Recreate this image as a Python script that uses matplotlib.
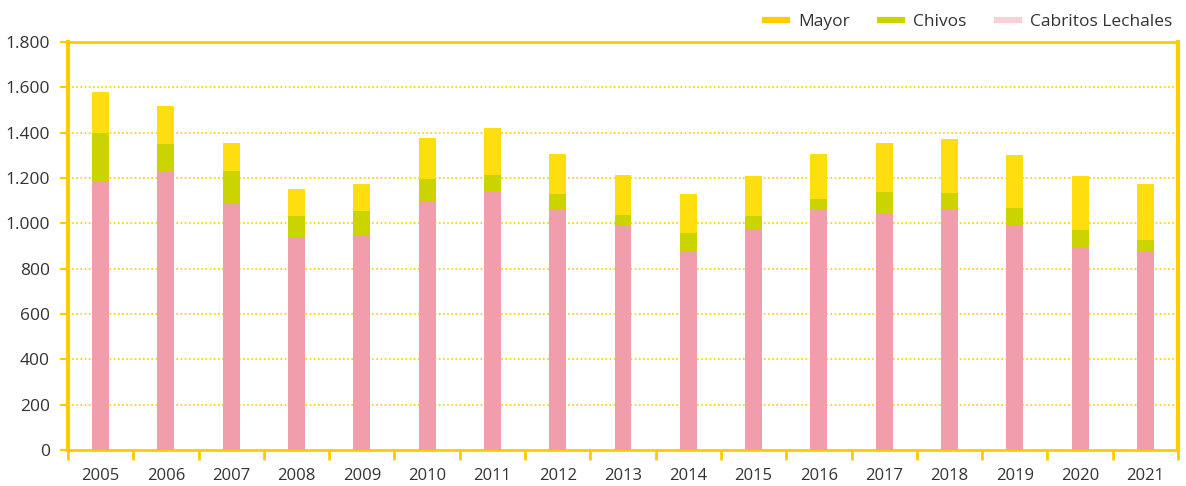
import numpy as np
import matplotlib.pyplot as plt
from matplotlib.lines import Line2D

years = ['2005', '2006', '2007', '2008', '2009', '2010', '2011', '2012', '2013',
         '2014', '2015', '2016', '2017', '2018', '2019', '2020', '2021']
# cumulative tops
cabritos = [1187, 1231, 1090, 940, 946, 1098, 1140, 1063, 990, 878, 972, 1060, 1046, 1063, 993, 896, 875]
tope_chivos = [1400, 1350, 1231, 1032, 1054, 1196, 1213, 1129, 1037, 957, 1032, 1107, 1138, 1134, 1068, 971, 927]
tope_mayor = [1580, 1518, 1355, 1152, 1174, 1377, 1421, 1306, 1213, 1129, 1209, 1306, 1354, 1372, 1301, 1209, 1174]

cabritos = np.array(cabritos)
chivos = np.array(tope_chivos) - cabritos
mayor = np.array(tope_mayor) - np.array(tope_chivos)

gold = '#FFCC00'
c_pink = '#F29DAB'
c_chivos = '#CCD400'
c_mayor = '#FFDE10'
txt = '#333333'

plt.rcParams['font.family'] = ['Open Sans', 'DejaVu Sans']

fig = plt.figure(figsize=(11.86, 4.86), dpi=100)
ax = fig.add_axes([68 / 1186, 36 / 486, 1110 / 1186, 408 / 486])

x = np.arange(len(years))
w = 0.26
ax.bar(x, cabritos, w, color=c_pink, zorder=3)
ax.bar(x, chivos, w, bottom=cabritos, color=c_chivos, zorder=3)
ax.bar(x, mayor, w, bottom=cabritos + chivos, color=c_mayor, zorder=3)

ax.set_xlim(-0.5, len(years) - 0.5)
ax.set_ylim(0, 1800)
ax.set_yticks(np.arange(0, 1801, 200))
ax.set_yticklabels([f'{v:,}'.replace(',', '.') for v in range(0, 1801, 200)])
ax.set_xticks(x)
ax.set_xticklabels(years)
ax.set_xticks(np.arange(-0.5, len(years), 1), minor=True)

ax.tick_params(axis='x', which='major', length=0, pad=13, labelsize=12, labelcolor=txt)
ax.tick_params(axis='x', which='minor', length=7, width=2, color=gold, direction='out')
ax.tick_params(axis='y', length=6, width=1.5, color=gold, labelsize=12.5, labelcolor=txt, pad=7)

ax.grid(axis='y', color=gold, linestyle=(0, (1, 1.5)), linewidth=1.2, zorder=0)
for s in ['left', 'right']:
    ax.spines[s].set_color(gold)
    ax.spines[s].set_linewidth(3)
for s in ['top', 'bottom']:
    ax.spines[s].set_color(gold)
    ax.spines[s].set_linewidth(2)

handles = [Line2D([], [], color='#FFCC00', lw=4.5),
           Line2D([], [], color=c_chivos, lw=4.5),
           Line2D([], [], color='#F9D0D8', lw=4.5)]
fig.legend(handles, ['Mayor', 'Chivos', 'Cabritos Lechales'], loc='upper right',
           bbox_to_anchor=(0.997, 0.993), ncol=3, frameon=False, fontsize=12.5,
           handlelength=1.27, handletextpad=0.63, columnspacing=1.75,
           borderaxespad=0.2, labelcolor=txt)

fig.savefig('out.png', dpi=100)
